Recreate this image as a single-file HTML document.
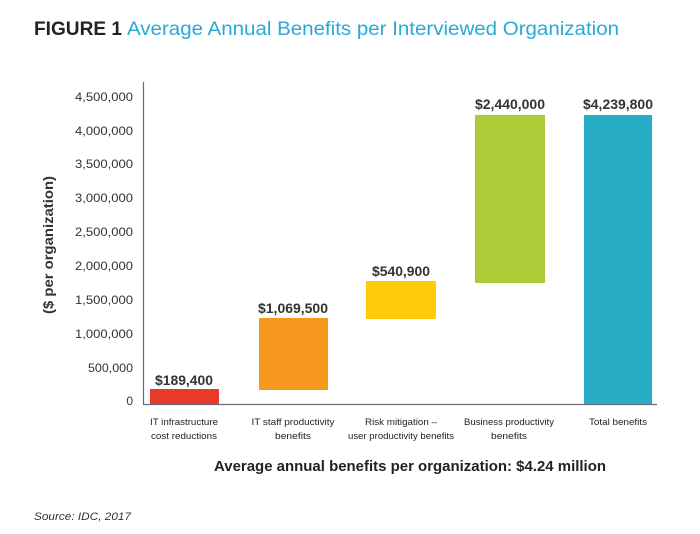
<!DOCTYPE html>
<html><head><meta charset="utf-8"><style>
html,body{margin:0;padding:0;background:#fff;}
svg{display:block;}
text{font-family:"Liberation Sans",sans-serif;}
</style></head><body>
<svg width="700" height="534" viewBox="0 0 700 534" xmlns="http://www.w3.org/2000/svg">
<text x="34" y="35" font-size="19" font-weight="bold" fill="#222" textLength="88" lengthAdjust="spacingAndGlyphs">FIGURE 1</text>
<text x="127" y="35" font-size="19" fill="#2aa8d8" textLength="492" lengthAdjust="spacingAndGlyphs">Average Annual Benefits per Interviewed Organization</text>
<line x1="143.5" y1="82" x2="143.5" y2="404" stroke="#6a6a78" stroke-width="1.2"/>
<line x1="143" y1="404.5" x2="657" y2="404.5" stroke="#6a6a78" stroke-width="1.2"/>
<g font-size="12" fill="#333" text-anchor="end">
<text x="133" y="101" textLength="58" lengthAdjust="spacingAndGlyphs">4,500,000</text>
<text x="133" y="135" textLength="58" lengthAdjust="spacingAndGlyphs">4,000,000</text>
<text x="133" y="168" textLength="58" lengthAdjust="spacingAndGlyphs">3,500,000</text>
<text x="133" y="202" textLength="58" lengthAdjust="spacingAndGlyphs">3,000,000</text>
<text x="133" y="236" textLength="58" lengthAdjust="spacingAndGlyphs">2,500,000</text>
<text x="133" y="270" textLength="58" lengthAdjust="spacingAndGlyphs">2,000,000</text>
<text x="133" y="304" textLength="58" lengthAdjust="spacingAndGlyphs">1,500,000</text>
<text x="133" y="338" textLength="58" lengthAdjust="spacingAndGlyphs">1,000,000</text>
<text x="133" y="372" textLength="45" lengthAdjust="spacingAndGlyphs">500,000</text>
<text x="133" y="405">0</text>
</g>
<text transform="translate(53,245) rotate(-90)" text-anchor="middle" font-size="14" font-weight="bold" fill="#333" textLength="138" lengthAdjust="spacingAndGlyphs">($ per organization)</text>
<rect x="150" y="389" width="69" height="15" fill="#e8392a"/>
<rect x="259" y="318" width="69" height="72" fill="#f7981f"/>
<rect x="366" y="281" width="70" height="38" fill="#fdcb0a"/>
<rect x="475" y="115" width="70" height="168" fill="#adcb36"/>
<rect x="584" y="115" width="68" height="289" fill="#27aec6"/>
<g font-size="14" font-weight="bold" fill="#333" text-anchor="middle">
<text x="184" y="385" textLength="58" lengthAdjust="spacingAndGlyphs">$189,400</text>
<text x="293" y="313" textLength="70" lengthAdjust="spacingAndGlyphs">$1,069,500</text>
<text x="401" y="276" textLength="58" lengthAdjust="spacingAndGlyphs">$540,900</text>
<text x="510" y="109" textLength="70" lengthAdjust="spacingAndGlyphs">$2,440,000</text>
<text x="618" y="109" textLength="70" lengthAdjust="spacingAndGlyphs">$4,239,800</text>
</g>
<g font-size="9.5" fill="#222" text-anchor="middle">
<text x="184" y="425" textLength="68" lengthAdjust="spacingAndGlyphs">IT infrastructure</text>
<text x="184" y="439" textLength="66" lengthAdjust="spacingAndGlyphs">cost reductions</text>
<text x="293" y="425" textLength="83" lengthAdjust="spacingAndGlyphs">IT staff productivity</text>
<text x="293" y="439" textLength="36" lengthAdjust="spacingAndGlyphs">benefits</text>
<text x="401" y="425" textLength="72" lengthAdjust="spacingAndGlyphs">Risk mitigation –</text>
<text x="401" y="439" textLength="106" lengthAdjust="spacingAndGlyphs">user productivity benefits</text>
<text x="509" y="425" textLength="90" lengthAdjust="spacingAndGlyphs">Business productivity</text>
<text x="509" y="439" textLength="36" lengthAdjust="spacingAndGlyphs">benefits</text>
<text x="618" y="425" textLength="58" lengthAdjust="spacingAndGlyphs">Total benefits</text>
</g>
<text x="410" y="471" text-anchor="middle" font-size="15" font-weight="bold" fill="#222" textLength="392" lengthAdjust="spacingAndGlyphs">Average annual benefits per organization: $4.24 million</text>
<text x="34" y="520" font-size="11" font-style="italic" fill="#333" textLength="97" lengthAdjust="spacingAndGlyphs">Source: IDC, 2017</text>
</svg>
</body></html>
